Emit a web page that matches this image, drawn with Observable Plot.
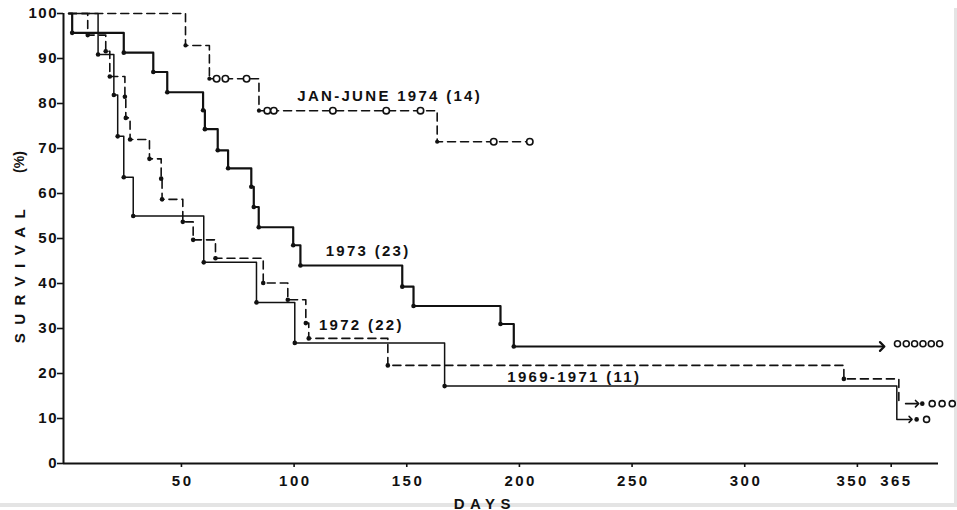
<!DOCTYPE html>
<html>
<head>
<meta charset="utf-8">
<script src="https://cdn.jsdelivr.net/npm/d3@7"></script>
<script src="https://cdn.jsdelivr.net/npm/@observablehq/plot@0.6"></script>
<style>
  html, body { margin: 0; padding: 0; background: #fff; }
  #wrap { position: relative; width: 957px; height: 510px; overflow: hidden; }
  #edge { position: absolute; left: 0; top: 8px; width: 954px; height: 495px;
          border-right: 3px solid #e4e4e4; border-bottom: 4px solid #e4e4e4; z-index: 0; }
  #chart { position: absolute; left: 0; top: 0; z-index: 1; }
</style>
</head>
<body>
<div id="wrap"><div id="edge"></div><div id="chart"></div></div>
<script>
// ---------- axes ----------
const xDomain = [-2.35, 386];
const xTicks = [50, 100, 150, 200, 250, 300, 350, 365];
const yTicks = [0, 10, 20, 30, 40, 50, 60, 70, 80, 90, 100];

// ---------- 1973 (23) : solid, heavy ----------
const days1973 = [0, 1.5, 24.4, 37.5, 43.7, 59.6, 60.4, 66.1, 70.7, 81.0, 82.1, 84.3, 99.6, 102.8, 148.0, 153.0, 191.6, 197.5, 361];
const surv1973 = [100, 95.7, 91.3, 87.0, 82.5, 78.5, 74.3, 69.6, 65.6, 61.5, 57.0, 52.5, 48.5, 44.0, 39.3, 35.0, 31.0, 26.0, 26.0];
const cens1973Days = [367.8, 371.7, 375.4, 379.1, 382.8, 386.5];
const cens1973Surv = [26.6, 26.6, 26.6, 26.6, 26.6, 26.6];

// ---------- 1972 (22) : dashed ----------
const days1972 = [0, 8.4, 16.4, 18.2, 24.9, 25.3, 27.2, 35.8, 41.0, 41.4, 50.6, 55.2, 65.1, 86.3, 97.2, 105.2, 106.5, 141.6, 344.0, 368.4];
const surv1972 = [100, 95.2, 91.6, 86.0, 81.5, 76.8, 72.0, 67.7, 63.3, 58.7, 53.7, 49.7, 45.6, 40.1, 36.4, 31.2, 27.8, 21.8, 18.8, 13.3];
const tail1972Days = [371.4, 376.5];
const tail1972Surv = [13.3, 13.3];
const end1972DotDays = [378.8];
const end1972DotSurv = [13.3];
const cens1972Days = [383.2, 387.6, 392.1];
const cens1972Surv = [13.3, 13.3, 13.3];

// ---------- 1969-1971 (11) : solid, light ----------
const days6971 = [0, 13.0, 20.0, 21.7, 24.4, 28.6, 59.9, 83.3, 100.3, 166.8, 367.5, 373.6];
const surv6971 = [100, 90.9, 81.9, 72.7, 63.6, 55.0, 44.7, 35.8, 26.8, 17.2, 9.8, 9.8];
const end6971DotDays = [376.3];
const end6971DotSurv = [9.8];
const cens6971Days = [380.7];
const cens6971Surv = [9.8];

// ---------- JAN-JUNE 1974 (14) : dashed ----------
const days1974 = [0, 51.8, 62.4, 84.4, 163.5, 204.6];
const surv1974 = [100, 92.9, 85.5, 78.4, 71.5, 71.5];
const cens1974Days = [65.6, 69.5, 78.9, 88.1, 91.0, 117.2, 140.9, 156.1, 188.6, 204.6];
const cens1974Surv = [85.5, 85.5, 85.5, 78.4, 78.4, 78.4, 78.4, 78.4, 71.5, 71.5];

// ---------- labels ----------
const seriesLabels = ["JAN-JUNE 1974 (14)", "1973 (23)", "1972 (22)", "1969-1971 (11)"];
const labelDays = [101.4, 114, 111, 194.6];
const labelSurv = [80.5, 46.2, 29.6, 18.1];
const yTitle = "SURVIVAL";
const yUnit = "(%)";
const xTitle = "DAYS";

// ---------- helpers ----------
const rows = (ds, ss) => ds.map((d, i) => ({day: d, surv: ss[i]}));
const r1973 = rows(days1973, surv1973);
const r1972 = rows(days1972, surv1972);
const r6971 = rows(days6971, surv6971);
const r1974 = rows(days1974, surv1974);

const font = '"Liberation Sans", Arial, sans-serif';
const ink = "#111";
const dash = "8,5";

const svg = Plot.plot({
  width: 957,
  height: 510,
  marginTop: 13,
  marginRight: 19,
  marginBottom: 47,
  marginLeft: 63,
  style: `font-family: ${font}; background: transparent; color: ${ink}; overflow: visible;`,
  x: {domain: xDomain, axis: null},
  y: {domain: [0, 100], axis: null},
  marks: [
    Plot.axisY({ticks: yTicks, tickSize: 6, tickPadding: 1, fontSize: 15, fontWeight: "bold",
                strokeWidth: 1.6, label: null, tickFormat: d => String(d)}),
    Plot.axisX({ticks: xTicks, tickSize: 4, tickPadding: 8, fontSize: 15, fontWeight: "bold",
                strokeWidth: 1.6, label: null, tickFormat: d => String(d)}),
    Plot.ruleY([0], {stroke: ink, strokeWidth: 2}),
    Plot.ruleX([xDomain[0]], {stroke: ink, strokeWidth: 2}),

    // survival step lines
    Plot.line(r1974, {x: "day", y: "surv", curve: "step-after", stroke: ink, strokeWidth: 1.6, strokeDasharray: dash}),
    Plot.line(r1972, {x: "day", y: "surv", curve: "step-after", stroke: ink, strokeWidth: 1.6, strokeDasharray: dash}),
    Plot.line(r6971, {x: "day", y: "surv", curve: "step-after", stroke: ink, strokeWidth: 1.5, markerEnd: "arrow"}),
    Plot.line(r1973, {x: "day", y: "surv", curve: "step-after", stroke: ink, strokeWidth: 2.2, markerEnd: "arrow"}),
    Plot.line(rows(tail1972Days, tail1972Surv), {x: "day", y: "surv", stroke: ink, strokeWidth: 1.6, markerEnd: "arrow"}),

    // deaths (filled dots)
    Plot.dot(r1973.slice(1, -1), {x: "day", y: "surv", r: 2.3, fill: ink}),
    Plot.dot(r1972.slice(1, -1), {x: "day", y: "surv", r: 2.3, fill: ink}),
    Plot.dot(r6971.slice(1, -2), {x: "day", y: "surv", r: 2.3, fill: ink}),
    Plot.dot(r1974.slice(1, -1), {x: "day", y: "surv", r: 2.1, fill: ink}),
    Plot.dot(rows(end1972DotDays, end1972DotSurv), {x: "day", y: "surv", r: 2.3, fill: ink}),
    Plot.dot(rows(end6971DotDays, end6971DotSurv), {x: "day", y: "surv", r: 2.3, fill: ink}),

    // censored (open circles)
    Plot.dot(rows(cens1974Days, cens1974Surv), {x: "day", y: "surv", r: 3.2, fill: "white", stroke: ink, strokeWidth: 1.6}),
    Plot.dot(rows(cens1973Days, cens1973Surv), {x: "day", y: "surv", r: 3.0, fill: "white", stroke: ink, strokeWidth: 1.6}),
    Plot.dot(rows(cens1972Days, cens1972Surv), {x: "day", y: "surv", r: 3.0, fill: "white", stroke: ink, strokeWidth: 1.6}),
    Plot.dot(rows(cens6971Days, cens6971Surv), {x: "day", y: "surv", r: 3.0, fill: "white", stroke: ink, strokeWidth: 1.6}),

    // series labels
    Plot.text(seriesLabels, {text: d => d, x: (d, i) => labelDays[i], y: (d, i) => labelSurv[i],
      textAnchor: "start", lineAnchor: "bottom", fontSize: 15, fontWeight: "bold", fill: ink}),

    // axis titles
    Plot.text([yTitle], {text: d => d, frameAnchor: "left", y: [41.6], dx: -43, rotate: -90,
      textAnchor: "middle", lineAnchor: "middle", fontSize: 15, fontWeight: "bold", fill: ink}),
    Plot.text([yUnit], {text: d => d, frameAnchor: "left", y: [67], dx: -44, rotate: -90,
      textAnchor: "middle", lineAnchor: "middle", fontSize: 14, fontWeight: "bold", fill: ink}),
    Plot.text([xTitle], {text: d => d, frameAnchor: "bottom", x: [183.4], dy: 45, lineAnchor: "bottom",
      textAnchor: "middle", fontSize: 15, fontWeight: "bold", fill: ink})
  ]
});

document.getElementById("chart").appendChild(svg);

// spread the lettering like the original stencil type: measure, switch to start anchoring,
// offset by the spread width so middle / end anchored labels stay where they belong
const spacingByText = new Map([
  ...seriesLabels.map(s => [s, 2.3]),
  [yTitle, 8.5],
  [xTitle, 5.5]
]);
const spacingByGroup = {"y-axis tick label": 1.5, "x-axis tick label": 2.5};
// the original lettering sets the two crowded end labels slightly apart
const xLabelNudge = {"350": -6, "365": 4};
svg.querySelectorAll("text").forEach(t => {
  const txt = t.textContent || "";
  const g = t.closest("g[aria-label]");
  const group = g ? g.getAttribute("aria-label") : "";
  let ls = spacingByText.get(txt);
  if (ls == null) ls = spacingByGroup[group];
  if (ls == null || txt.length < 2) return;
  const anchor = getComputedStyle(t).textAnchor;
  const w = t.getComputedTextLength();
  const L = w + ls * (txt.length - 1);
  let off = anchor === "middle" ? -L / 2 : anchor === "end" ? -L : 0;
  if (group === "x-axis tick label" && xLabelNudge[txt]) off += xLabelNudge[txt];
  t.setAttribute("text-anchor", "start");
  t.style.textAnchor = "start";
  t.setAttribute("dx", off.toFixed(1));
  t.setAttribute("textLength", L.toFixed(1));
  t.setAttribute("lengthAdjust", "spacing");
});
</script>
</body>
</html>
